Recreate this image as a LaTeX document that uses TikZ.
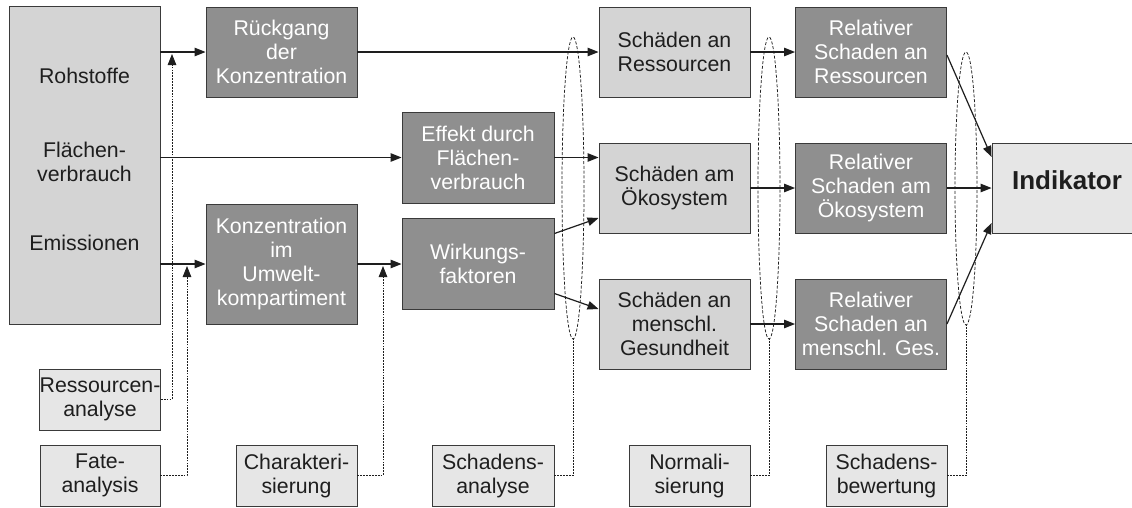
\documentclass[tikz,border=0pt]{standalone}
\usepackage{fontspec}
\setmainfont{Liberation Sans}
\usetikzlibrary{arrows.meta,shapes.geometric}
\definecolor{boxdark}{HTML}{8F8F8F}
\definecolor{boxlight}{HTML}{D4D4D4}
\definecolor{boxpale}{HTML}{E6E6E6}
\definecolor{edge}{HTML}{3A3A3A}
\definecolor{ink}{HTML}{1E1E1E}
\begin{document}
\begin{tikzpicture}[x=1pt,y=-1pt,
  base/.style={draw=edge,line width=0.9pt,inner sep=0pt,align=center,
    font=\fontsize{21.3}{24}\selectfont},
  darkbox/.style={base,fill=boxdark,text=white,minimum width=151pt,minimum height=90pt},
  lightbox/.style={base,fill=boxlight,text=ink,minimum width=151pt,minimum height=90pt},
  methodbox/.style={base,fill=boxpale,text=ink,minimum width=121pt,minimum height=61pt},
  plain/.style={inner sep=0pt,align=center,text=ink,font=\fontsize{21.3}{24}\selectfont},
  group/.style={ellipse,draw=ink,line width=0.75pt,dash pattern=on 3pt off 1.8pt,
    inner sep=0pt,minimum width=22pt},
  flow/.style={draw=ink,line width=1.2pt,-{Triangle[length=11pt,width=8.5pt]}},
  link/.style={draw=ink,line width=0.85pt,dash pattern=on 1.8pt off 1.1pt},
  linkin/.style={link,-{Triangle[length=11pt,width=8.5pt]}}]
\useasboundingbox[fill=white] (0,0) rectangle (1132,507);

% source column
\node[lightbox,minimum width=151pt,minimum height=318pt] (src) at (84.5,165) {};
\node[plain] (raw) at (84.5,76) {Rohstoffe};
\node[plain] (land) at (84.5,162) {Flächen-\\verbrauch};
\node[plain] (emis) at (84.5,243) {Emissionen};

% intermediate effects
\node[darkbox] (rg) at (281.5,52) {Rückgang\\der\\Konzentration};
\node[darkbox,minimum height=120pt] (kz) at (281.5,264) {Konzentration\\im\\Umwelt-\\kompartiment};
\node[darkbox,minimum width=152pt,minimum height=91pt] (ef) at (478,157.5) {Effekt durch\\Flächen-\\verbrauch};
\node[darkbox,minimum width=152pt,minimum height=91pt] (wf) at (478,263.5) {Wirkungs-\\faktoren};

% damage categories
\node[lightbox] (sr) at (674.5,52) {Schäden an\\Ressourcen};
\node[lightbox] (so) at (674.5,188) {Schäden am\\Ökosystem};
\node[lightbox] (sg) at (674.5,324) {Schäden an\\menschl.\\Gesundheit};

% normalised damages
\node[darkbox] (rr) at (871,52) {Relativer\\Schaden an\\Ressourcen};
\node[darkbox] (ro) at (871,188) {Relativer\\Schaden am\\Ökosystem};
\node[darkbox] (rh) at (871,324) {Relativer\\Schaden an\\menschl. Ges.};

% indicator
\node[base,fill=boxpale,text=ink,minimum width=150pt,minimum height=90pt,
  font=\fontsize{26}{28}\selectfont\bfseries] (ind) at (1067,188)
  {\raisebox{8pt}[\height][\depth]{Indikator}};

% method steps
\node[methodbox,minimum width=120pt] (ra) at (100,399.5) {Ressourcen-\\analyse};
\node[methodbox,minimum width=120pt] (fa) at (100,475.5) {Fate-\\analysis};
\node[methodbox] (ch) at (296.5,475.5) {Charakteri-\\sierung};
\node[methodbox,minimum width=122pt] (sa) at (493,475.5) {Schadens-\\analyse};
\node[methodbox] (nm) at (689.5,475.5) {Normali-\\sierung};
\node[methodbox] (sb) at (886.5,475.5) {Schadens-\\bewertung};

% groupings
\node[group,minimum height=302pt] (e1) at (573,188) {};
\node[group,minimum height=302pt] (e2) at (769,188) {};
\node[group,minimum height=273pt] (e3) at (966,188.5) {};

% main flow
\draw[flow] (src.east |- rg.west) -- (rg.west);
\draw[flow] (src.east |- ef.west) -- (ef.west);
\draw[flow] (src.east |- kz.west) -- (kz.west);
\draw[flow] (rg.east) -- (sr.west);
\draw[flow] (kz.east) -- (kz.east -| wf.west);
\draw[flow] (ef.east) -- (ef.east -| so.west);
\draw[flow] ([yshift=30pt]wf.east) -- ([yshift=-30pt]so.west);
\draw[flow] ([yshift=-30pt]wf.east) -- ([yshift=15pt]sg.west);
\draw[flow] (sr.east) -- (rr.west);
\draw[flow] (so.east) -- (ro.west);
\draw[flow] (sg.east) -- (rh.west);
\draw[flow] ([yshift=-3pt]rr.east) -- ([yshift=31pt]ind.west);
\draw[flow] (ro.east) -- (ind.west);
\draw[flow] (rh.east) -- ([yshift=-35pt]ind.west);

% method links
\coordinate (ra-in) at (172,54);
\coordinate (fa-in) at (187,266);
\coordinate (ch-in) at (383,266);
\draw[linkin] (ra.east) -| (ra-in);
\draw[linkin] (fa.east) -| (fa-in);
\draw[linkin] (ch.east) -| (ch-in);
\draw[link] (sa.east) -| (e1.south);
\draw[link] (nm.east) -| (e2.south);
\draw[link] (sb.east) -| (e3.south);
\end{tikzpicture}
\end{document}
